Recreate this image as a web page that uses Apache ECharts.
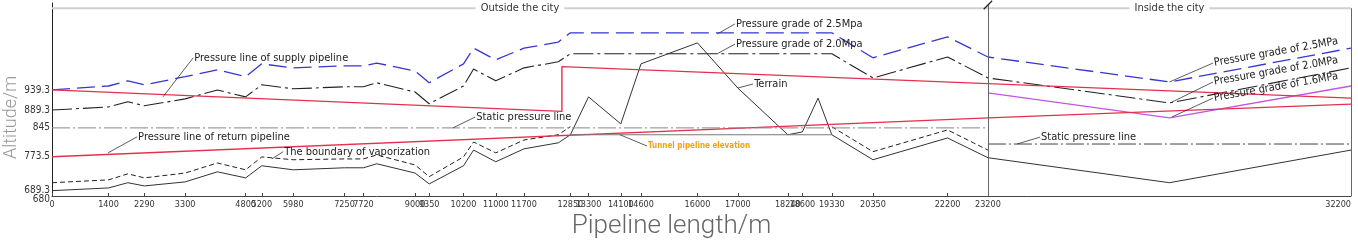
<!DOCTYPE html>
<html>
<head>
<meta charset="utf-8">
<script src="https://cdn.jsdelivr.net/npm/echarts@6/dist/echarts.min.js"></script>
<style>
  html, body { margin: 0; padding: 0; background: #fff; }
  #main { width: 1358px; height: 246px; }
</style>
</head>
<body>
<div id="main"></div>
<script>
// tick labels
var xTicks = [0, 1400, 2290, 3300, 4800, 5200, 5980, 7250, 7720, 9000, 9350, 10200, 11000, 11700,
  12850, 13300, 14100, 14600, 16000, 17000, 18240, 18600, 19330, 20350, 22200, 23200, 32200];
var yTicks = [680, 689.3, 773.5, 845, 889.3, 939.3];

// pressure grade lines (outside + inside the city)
var gradeX = [0, 1400, 1880, 2290, 3300, 4100, 4800, 5200, 5980, 7250, 7720, 8050, 9000, 9350,
  10200, 10450, 11000, 11700, 12550, 12850, 19330, 20350, 22200, 23200, 27700, 32200];
var grade25 = [939.3, 949, 962, 952, 972, 989, 972, 1004, 994, 999, 999, 1006, 986, 957,
  1004, 1043, 1014, 1043, 1058, 1081, 1081, 1019, 1071, 1021, 959, 1043];
var grade20 = [889.3, 897, 910, 900, 917, 939, 922, 952, 942, 947, 947, 957, 934, 905,
  949, 991, 962, 994, 1009, 1029, 1029, 969, 1021, 969, 907, 994];
var grade16X = [23200, 27700, 32200];
var grade16 = [932, 870, 949];

// terrain
var terrainX = [0, 1400, 1880, 2290, 3300, 4100, 4800, 5200, 5980, 7250, 7720, 8050, 9000, 9350,
  10200, 10450, 11000, 11700, 12550, 12850, 13300, 14100, 14600, 16000, 17000, 18240, 18600,
  18990, 19330, 20350, 22200, 23200, 27700, 32200];
var terrain = [689.3, 696, 709, 701, 711, 736, 721, 751, 741, 746, 746, 756, 733, 706,
  751, 790, 761, 793, 808, 828, 922, 855, 1004, 1056, 944, 828, 835,
  919, 828, 766, 820, 771, 709, 790];

// boundary of vaporization (broken over the tunnel)
var vaporX = [0, 1400, 1880, 2290, 3300, 4100, 4800, 5200, 5980, 7250, 7720, 8050, 9000, 9350,
  10200, 10450, 11000, 11700, 12550, 12850, 16000, 19330, 20350, 22200, 23200];
var vapor = [709, 716, 731, 721, 733, 758, 741, 773, 766, 768, 768, 778, 753, 724,
  773, 810, 783, 815, 828, 848, null, 848, 786, 840, 790];

// supply / return pressure lines
var supplyX = [0, 12640, 12640, 32200];
var supply = [939.3, 886, 997, 919];
var returnX = [0, 23200, 32200];
var returnP = [773.5, 870, 904];

// static pressure & tunnel elevation
var staticOutX = [0, 23200];
var staticOut = [845, 845];
var staticInX = [23200, 32200];
var staticIn = [805, 805];
var tunnelX = [12850, 19330];
var tunnel = [828, 828];

var regions = ['Outside the city', 'Inside the city'];
var regionX = [[0, 23200], [23200, 32200]];
var topLevel = 1142;

// annotation leaders: text, start point, end point
var notes = [
  ['Pressure line of supply pipeline', [2750, 922], [3500, 1019]],
  ['Pressure line of return pipeline', [1390, 783], [2110, 823]],
  ['The boundary of vaporization', [5450, 768], [5730, 786]],
  ['Static pressure line', [9940, 845], [10490, 872]],
  ['Tunnel pipeline elevation', [14080, 828], [14750, 800]],
  ['Terrain', [17000, 944], [17380, 954]],
  ['Pressure grade of 2.5Mpa', [16490, 1078], [16930, 1103]],
  ['Pressure grade of 2.0Mpa', [16490, 1029], [16930, 1053]],
  ['Pressure grade of 2.5MPa', [27700, 959], [28780, 1006]],
  ['Pressure grade of 2.0MPa', [27760, 909], [28780, 959]],
  ['Pressure grade of 1.6MPa', [27760, 872], [28780, 919]],
  ['Static pressure line', [23920, 805], [24490, 822]]
];

var narrow = "'Liberation Sans Narrow', 'DejaVu Sans Condensed', 'Roboto Condensed', sans-serif";
var yMin = 676, yMax = 1155;

function pts(xs, ys) {
  return xs.map(function (x, i) { return [x, ys[i]]; });
}

function line(name, xs, ys, color, type, width) {
  return {
    name: name,
    type: 'line',
    data: pts(xs, ys),
    symbol: 'none',
    connectNulls: false,
    lineStyle: { color: color, type: type, width: width || 1 },
    z: 3
  };
}

var series = [
  line('2.5MPa', gradeX, grade25, '#3636d2', [18, 7], 1.3),
  line('2.0MPa', gradeX, grade20, '#222', [20, 4, 3, 4], 1.1),
  line('1.6MPa', grade16X, grade16, '#c255e2', 'solid', 1.3),
  line('Terrain', terrainX, terrain, '#333', 'solid', 1),
  line('Vaporization', vaporX, vapor, '#222', [5, 3], 1),
  line('Supply', supplyX, supply, '#e5304c', 'solid', 1.4),
  line('Return', returnX, returnP, '#e5304c', 'solid', 1.4),
  line('Static', staticOutX, staticOut, '#888', [18, 3, 2, 3], 1),
  line('StaticIn', staticInX, staticIn, '#444', [18, 3, 2, 3], 1),
  line('Tunnel', tunnelX, tunnel, '#777', 'solid', 1)
];

notes.forEach(function (n) {
  var inside = n[1][0] > 27000;
  var tunnelNote = n[0].indexOf('Tunnel') === 0;
  series.push({
    type: 'line',
    data: [n[1], n[2]],
    symbol: 'none',
    lineStyle: { color: '#333', width: 0.8 },
    z: 4,
    endLabel: {
      show: true,
      formatter: n[0],
      distance: 1,
      rotate: inside ? 10 : 0,
      color: tunnelNote ? '#f2a20a' : '#222',
      fontWeight: tunnelNote ? 'bold' : 'normal',
      fontSize: tunnelNote ? 8 : 11,
      fontFamily: narrow
    }
  });
});

regions.forEach(function (r, i) {
  var x0 = regionX[i][0], x1 = regionX[i][1];
  series.push({
    type: 'line',
    data: [[x0, topLevel], [x1, topLevel]],
    symbol: 'none',
    lineStyle: { color: '#cfcfcf', width: 2 },
    z: 2,
    markPoint: {
      symbol: 'rect',
      symbolSize: 1,
      itemStyle: { color: 'transparent' },
      label: {
        show: true,
        formatter: r,
        color: '#333',
        fontSize: 11,
        fontFamily: narrow,
        backgroundColor: '#fff',
        padding: [0, 5]
      },
      data: [{ coord: [(x0 + x1) / 2, topLevel] }]
    }
  });
});

// section divider and right border
series.push({
  type: 'line',
  data: [],
  markLine: {
    silent: true,
    symbol: 'none',
    label: { show: false },
    lineStyle: { color: '#666', type: 'solid', width: 1 },
    data: [
      [{ coord: [23200, yMin] }, { coord: [23200, 1152] }],
      [{ coord: [32200, yMin] }, { coord: [32200, topLevel] }]
    ]
  },
  markPoint: {
    symbol: 'rect',
    symbolSize: [1.2, 12],
    symbolRotate: -45,
    itemStyle: { color: '#222' },
    label: { show: false },
    data: [{ coord: [23200, 1150] }]
  }
});

var chart = echarts.init(document.getElementById('main'));
window.onresize = chart.resize;

var yLabel = { fontSize: 10, color: '#333', margin: 2, fontFamily: narrow, hideOverlap: false };

chart.setOption({
  animation: false,
  backgroundColor: '#fff',
  grid: { left: 52, right: 7, top: 3, bottom: 50, containLabel: false, outerBoundsMode: 'none' },
  xAxis: {
    type: 'value',
    min: 0,
    max: 32200,
    name: 'Pipeline length/m',
    nameLocation: 'middle',
    nameGap: 17,
    nameMoveOverlap: false,
    nameTextStyle: { fontSize: 26, color: '#666', fontFamily: 'Roboto', fontWeight: 300, padding: [0, 60, 0, 0] },
    axisLine: { lineStyle: { color: '#444' } },
    axisTick: { show: true, inside: true, length: 3, customValues: xTicks, lineStyle: { color: '#444' } },
    axisLabel: {
      customValues: xTicks,
      fontSize: 9,
      color: '#333',
      margin: 4,
      fontFamily: narrow,
      hideOverlap: false,
      alignMaxLabel: 'right',
      formatter: function (v) { return String(v); }
    },
    splitLine: { show: false }
  },
  yAxis: [{
    type: 'value',
    min: yMin,
    max: yMax,
    name: 'Altitude/m',
    nameLocation: 'middle',
    nameGap: 32,
    nameMoveOverlap: false,
    nameTextStyle: { fontSize: 18, color: '#999', fontFamily: 'Roboto', fontWeight: 300, padding: [0, 36, 0, 0] },
    axisLine: { show: true, lineStyle: { color: '#222' } },
    axisTick: { show: false },
    axisLabel: Object.assign({
      customValues: yTicks.filter(function (v) { return v !== 680; }),
      formatter: function (v) { return String(v); }
    }, yLabel),
    splitLine: { show: false }
  }, {
    // bottom label of the altitude axis, drawn apart so it is not hidden by 689.3
    type: 'value',
    position: 'left',
    min: yMin,
    max: yMax,
    axisLine: { show: false },
    axisTick: { show: false },
    axisLabel: Object.assign({
      customValues: yTicks.filter(function (v) { return v === 680; }),
      formatter: function (v) { return '{low|' + v + '}'; },
      rich: { low: { fontSize: 10, fontFamily: narrow, color: '#333', padding: [10, 0, 0, 0] } }
    }, yLabel),
    splitLine: { show: false }
  }],
  series: series
});
</script>
</body>
</html>
